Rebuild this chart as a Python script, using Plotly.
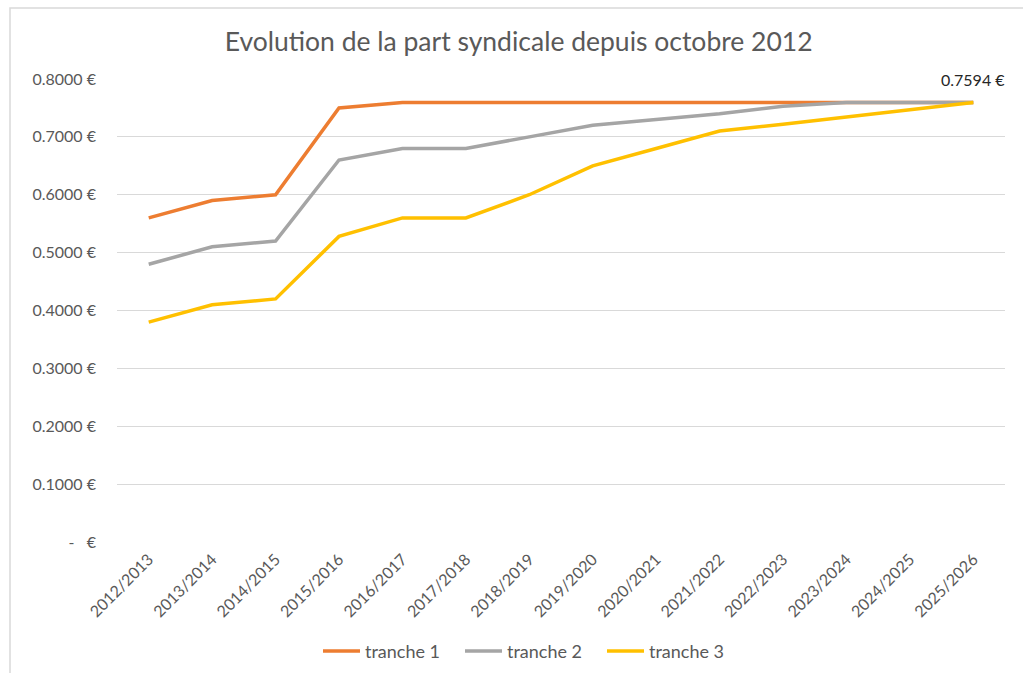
import plotly.graph_objects as go

categories = ["2012/2013", "2013/2014", "2014/2015", "2015/2016", "2016/2017", "2017/2018",
              "2018/2019", "2019/2020", "2020/2021", "2021/2022", "2022/2023", "2023/2024",
              "2024/2025", "2025/2026"]
tranche1 = [0.56, 0.59, 0.60, 0.75, 0.7594, 0.7594, 0.7594, 0.7594, 0.7594, 0.7594, 0.7594, 0.7594, 0.7594, 0.7594]
tranche2 = [0.48, 0.51, 0.52, 0.66, 0.68, 0.68, 0.70, 0.72, 0.73, 0.74, 0.753, 0.7594, 0.7594, 0.7594]
tranche3 = [0.38, 0.41, 0.42, 0.528, 0.56, 0.56, 0.60, 0.65, 0.68, 0.71, 0.722, 0.735, 0.747, 0.7594]
series_names = ["tranche 1", "tranche 2", "tranche 3"]
colors = ["#ED7D31", "#A5A5A5", "#FFC000"]
ytick_vals = [0, 0.1, 0.2, 0.3, 0.4, 0.5, 0.6, 0.7, 0.8]
ytick_text = ["-   €", "0.1000 €", "0.2000 €", "0.3000 €", "0.4000 €", "0.5000 €", "0.6000 €", "0.7000 €", "0.8000 €"]
last_label = "0.7594 €"

FONT = "Lato, Open Sans, sans-serif"
fig = go.Figure()
for name, vals, c in zip(series_names, [tranche1, tranche2, tranche3], colors):
    fig.add_trace(go.Scatter(x=list(range(len(categories))), y=vals, mode="lines", name=name,
                             line=dict(color=c, width=3.5), cliponaxis=False))

fig.add_annotation(x=len(categories) - 1, y=tranche1[-1], text=last_label, showarrow=False,
                   yshift=23, font=dict(family=FONT, size=16, color="#262626"))

fig.update_layout(
    width=1023, height=673,
    paper_bgcolor="white", plot_bgcolor="white",
    margin=dict(l=117, r=18, t=79, b=131, autoexpand=False),
    title=dict(text="Evolution de la part syndicale depuis octobre 2012", x=0.507, xanchor="center",
               y=1 - 42 / 673, yanchor="middle", yref="container",
               font=dict(family=FONT, size=26.5, color="#595959")),
    xaxis=dict(tickmode="array", tickvals=list(range(len(categories))), ticktext=categories,
               range=[-0.5, len(categories) - 0.5], tickangle=-45, showgrid=False, zeroline=False,
               showline=False, ticks="", automargin=False, ticklabelstandoff=4,
               tickfont=dict(family=FONT, size=16, color="#595959")),
    yaxis=dict(tickmode="array", tickvals=ytick_vals, ticktext=ytick_text, range=[0, 0.8],
               showgrid=True, gridcolor="#D9D9D9", gridwidth=1.3, zeroline=False, showline=False,
               ticks="", ticklabelstandoff=20, automargin=False,
               tickfont=dict(family=FONT, size=16, color="#595959")),
    legend=dict(orientation="h", x=(318 - 117) / 888, xanchor="left", y=-0.236, yanchor="middle",
                font=dict(family=FONT, size=18, color="#595959"), itemwidth=37,
                entrywidth=90, entrywidthmode="pixels", traceorder="normal"),
    showlegend=True,
)
fig.add_shape(type="rect", xref="paper", yref="paper", x0=-107 / 888, x1=1 + 40 / 888,
              y0=-200 / 463, y1=1 + 71 / 463, line=dict(color="#D9D9D9", width=1.5), layer="below")

fig.write_html("out.html", post_script="document.body.style.margin='0';",
               config={"displayModeBar": False})
